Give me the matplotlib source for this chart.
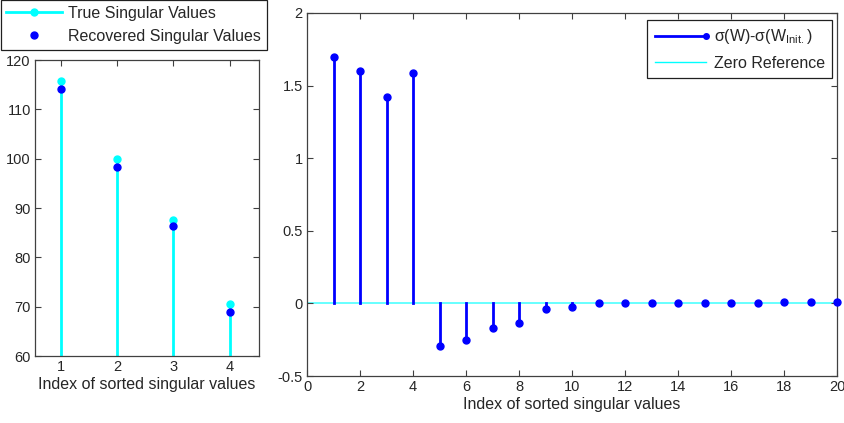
import matplotlib
matplotlib.use("Agg")
import matplotlib.pyplot as plt
from matplotlib.lines import Line2D
from matplotlib.legend_handler import HandlerBase

plt.rcParams['font.family'] = ['Liberation Sans', 'DejaVu Sans']
plt.rcParams['mathtext.fontset'] = 'custom'
plt.rcParams['mathtext.rm'] = 'Liberation Sans'

# Singular values (top 4)
idx_top = [1, 2, 3, 4]
true_sv = [115.7, 100.0, 87.6, 70.5]
recovered_sv = [114.1, 98.4, 86.3, 68.9]

# Difference sigma(W) - sigma(W_init) for all 20 sorted singular values
idx_all = list(range(1, 21))
sv_diff = [1.696, 1.603, 1.424, 1.589, -0.290, -0.251, -0.172, -0.133,
           -0.036, -0.023, 0.001, 0.001, 0.001, 0.001, 0.001, 0.001,
           0.001, 0.010, 0.010, 0.010]

text_col = '#262626'
edge_col = '#404040'
cyan = '#00FFFF'
blue = '#0000FF'
FS_TICK = 10.5
FS_LABEL = 11.5
FS_LEG = 11.5


class HandlerEndMarker(HandlerBase):
    """Legend entry: a line with its marker at the right end."""
    def create_artists(self, legend, orig_handle, xdescent, ydescent,
                       width, height, fontsize, trans):
        y = height / 2 - ydescent
        line = Line2D([-xdescent, width - xdescent], [y, y],
                      color=orig_handle.get_color(),
                      lw=orig_handle.get_linewidth(), transform=trans)
        mk = Line2D([width - xdescent], [y], marker=orig_handle.get_marker(),
                    ms=orig_handle.get_markersize(),
                    color=orig_handle.get_color(), ls='none', transform=trans)
        return [line, mk]


def style_axes(ax):
    for s in ax.spines.values():
        s.set_color(edge_col)
        s.set_linewidth(0.9)
    ax.tick_params(direction='in', top=True, right=True, length=4,
                   width=0.8, color=edge_col, labelcolor=text_col,
                   labelsize=FS_TICK, pad=3)


fig = plt.figure(figsize=(8.44, 4.23), dpi=100)
W, H = 844, 423

# Left panel: true vs recovered singular values
axL = fig.add_axes([35 / W, 1 - 356 / H, 224 / W, 296 / H])
for x, t in zip(idx_top, true_sv):
    axL.plot([x, x], [60, t], color=cyan, lw=2.0, zorder=2)
axL.plot(idx_top, true_sv, ls='none', marker='o', ms=5, color=cyan,
         zorder=3)
axL.plot(idx_top, recovered_sv, ls='none', marker='o', ms=5, color=blue,
         zorder=4)
axL.set_xlim(0.54, 4.52)
axL.set_ylim(60, 120)
axL.set_xticks(idx_top)
axL.set_yticks(range(60, 121, 10))
axL.set_xlabel('Index of sorted singular values', fontsize=FS_LABEL,
               color=text_col, labelpad=2)
style_axes(axL)

legL_handles = [
    Line2D([], [], color=cyan, lw=2, marker='o', ms=5),
    Line2D([], [], color=blue, ls='none', marker='o', ms=5),
]
legL = fig.legend(legL_handles, ['True Singular Values',
                                 'Recovered Singular Values'],
                  loc='upper left', bbox_to_anchor=(0.5 / W, 1 - 0.5 / H),
                  bbox_transform=fig.transFigure, fontsize=FS_LEG,
                  frameon=True, fancybox=False, framealpha=1,
                  edgecolor='#202020', borderpad=0.35, labelspacing=0.5,
                  handlelength=3.5, handletextpad=0.4, borderaxespad=0,
                  numpoints=1)
legL.get_frame().set_linewidth(0.9)
for t in legL.get_texts():
    t.set_color(text_col)

# Right panel: difference of singular values
axR = fig.add_axes([307 / W, 1 - 376 / H, 530 / W, 363 / H])
axR.axhline(0, color=cyan, lw=1.4, alpha=0.6, zorder=1)
for x, d in zip(idx_all, sv_diff):
    axR.plot([x, x], [0, d], color=blue, lw=2.0, zorder=2)
axR.plot(idx_all, sv_diff, ls='none', marker='o', ms=5, color=blue,
         zorder=3, clip_on=False)
axR.set_xlim(0, 20)
axR.set_ylim(-0.5, 2)
axR.set_xticks(range(0, 21, 2))
axR.set_yticks([-0.5, 0, 0.5, 1, 1.5, 2])
axR.set_yticklabels(['-0.5', '0', '0.5', '1', '1.5', '2'])
axR.set_xlabel('Index of sorted singular values', fontsize=FS_LABEL,
               color=text_col, labelpad=2)
style_axes(axR)

legR_handles = [
    Line2D([], [], color=blue, lw=2, marker='o', ms=4),
    Line2D([], [], color=cyan, lw=1),
]
legR = axR.legend(legR_handles,
                  [r'σ(W)-σ(W$_{\rm Init.}$)', 'Zero Reference'],
                  loc='upper right', bbox_to_anchor=(832 / W, 1 - 20 / H),
                  bbox_transform=fig.transFigure, fontsize=FS_LEG,
                  frameon=True, fancybox=False, framealpha=1,
                  edgecolor='#202020', borderpad=0.45, labelspacing=0.6,
                  handlelength=3.2, handletextpad=0.5, borderaxespad=0,
                  handler_map={legR_handles[0]: HandlerEndMarker()})
legR.get_frame().set_linewidth(0.9)
for t in legR.get_texts():
    t.set_color(text_col)

fig.savefig('out.png', dpi=100)
